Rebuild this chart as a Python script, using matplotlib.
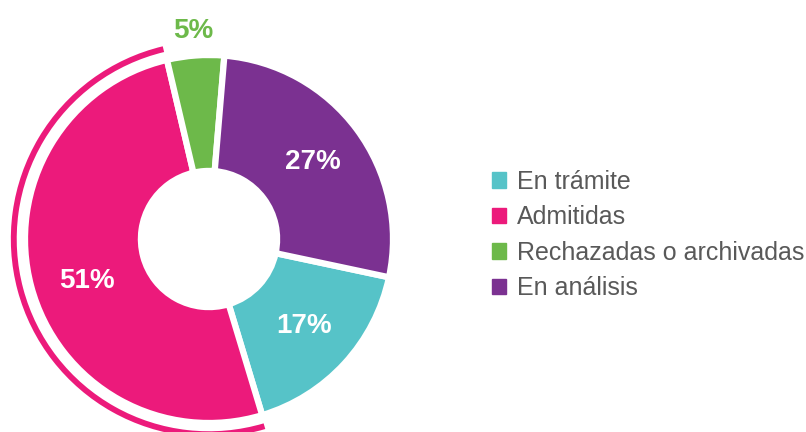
import numpy as np
import matplotlib.pyplot as plt
import matplotlib.patches as mpatches

labels = ['En trámite', 'Admitidas', 'Rechazadas o archivadas', 'En análisis']
values = [17, 51, 5, 27]
colors = ['#56C3C8', '#EC1A7B', '#6DB94A', '#7B3191']
pct_text = ['17%', '51%', '5%', '27%']

W, H = 806, 432
fig = plt.figure(figsize=(W / 100, H / 100), dpi=100)

# donut centre (px from left / top) and radius in px
cx, cy, R = 209, 239, 183
half = 230
ax = fig.add_axes([(cx - half) / W, (H - cy - half) / H, 2 * half / W, 2 * half / H])
ax.set_xlim(-half / R, half / R)
ax.set_ylim(-half / R, half / R)
ax.set_aspect('equal')
ax.axis('off')

start = -12
wedges, _ = ax.pie(values, colors=colors, startangle=start, counterclock=False,
                   radius=1, wedgeprops=dict(width=0.63, edgecolor='white', linewidth=4.5))

# percent labels
for w, t, c in zip(wedges, pct_text, colors):
    mid = (w.theta1 + w.theta2) / 2
    if t == '51%':
        mid += 4
    a = np.deg2rad(mid)
    if t == '5%':
        r, col = 1.135, c
    else:
        r, col = 0.70, 'white'
    ax.text(r * np.cos(a), r * np.sin(a), t, ha='center', va='center',
            color=col, fontsize=20, fontweight='bold', family='Liberation Sans')

# outer arc around the largest slice
big = wedges[1]
ax.add_patch(mpatches.Wedge((0, 0), 1.077, big.theta1 + 0.3, big.theta2 - 0.3,
                            width=0.032, facecolor=colors[1], edgecolor='none'))

handles = [mpatches.Patch(color=c, label=l) for c, l in zip(colors, labels)]
leg = fig.legend(handles=handles, loc='center left', bbox_to_anchor=(492 / W, 197 / H),
                 frameon=False, prop={'family': 'Liberation Sans', 'size': 18},
                 handlelength=0.56, handleheight=0.56, handletextpad=0.45,
                 labelspacing=0.46, borderpad=0, borderaxespad=0)
for t in leg.get_texts():
    t.set_color('#595959')

fig.savefig('out.png', dpi=100)
